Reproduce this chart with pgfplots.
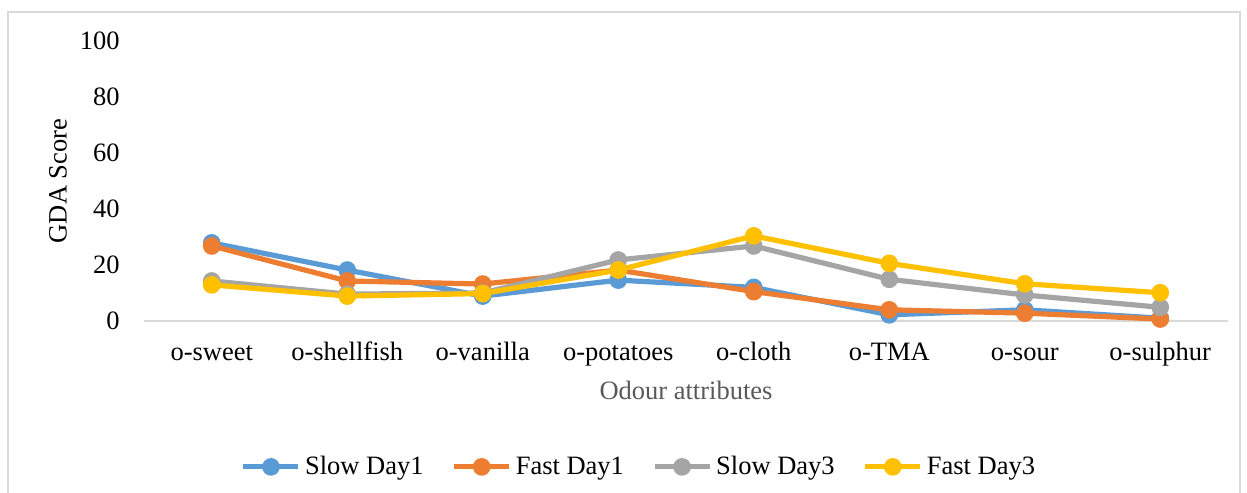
\documentclass[border=0pt]{standalone}
\usepackage{fontspec}
\setmainfont{Liberation Serif}
\usepackage{pgfplots}
\pgfplotsset{compat=1.18}
\definecolor{cBlue}{HTML}{5B9BD5}
\definecolor{cOrange}{HTML}{ED7D31}
\definecolor{cGray}{HTML}{A5A5A5}
\definecolor{cYellow}{HTML}{FFC000}
\definecolor{cGrid}{HTML}{D9D9D9}
\definecolor{cTitle}{HTML}{595959}
\begin{document}
\begin{tikzpicture}
\useasboundingbox (-72bp,-86bp) rectangle (551.5bp,160.5bp);
\draw[cGrid, line width=1bp] (-68bp,-87bp) -- (-68bp,154.5bp) -- (548bp,154.5bp) -- (548bp,-87bp);
\begin{axis}[
  at={(0,0)}, anchor=south west,
  scale only axis,
  width=542bp, height=140bp,
  xmin=-0.5, xmax=7.5, ymin=0, ymax=100,
  clip=false,
  axis x line*=bottom, axis y line*=left,
  x axis line style={cGrid, line width=0.75bp},
  y axis line style={draw=none},
  major tick length=0pt,
  xtick={0,...,7},
  xticklabels={o-sweet,o-shellfish,o-vanilla,o-potatoes,o-cloth,o-TMA,o-sour,o-sulphur},
  ytick={0,20,...,100},
  /pgf/number format/assume math mode=true,
  tick label style={font=\fontsize{13.25bp}{16bp}\selectfont, black},
  xticklabel style={anchor=base, inner sep=0pt, yshift=-19.5bp},
  yticklabel style={anchor=east, inner sep=0pt, xshift=-12bp},
  ylabel={GDA Score},
  ylabel style={at={(axis description cs:-0.0793,0.5)}, anchor=center, font=\fontsize{13.25bp}{16bp}\selectfont, inner sep=0pt},
  xlabel={Odour attributes},
  xlabel style={at={(axis description cs:0.5,-0.2786)}, anchor=base, font=\fontsize{13.25bp}{16bp}\selectfont, text=cTitle, inner sep=0pt},
  every axis plot/.append style={line width=2.6bp, mark=*, mark size=3.1bp},
  legend columns=4,
  legend style={at={(axis description cs:0.4557,-0.521)}, anchor=center, draw=none, fill=none,
    font=\fontsize{13.25bp}{16bp}\selectfont, inner sep=0pt, nodes={inner sep=0pt},
    /tikz/every odd column/.append style={column sep=2bp},
    /tikz/every even column/.append style={column sep=14bp}},
  legend cell align=left,
  legend image code/.code={\draw[#1, mark repeat=2, mark phase=2] plot coordinates {(0bp,0bp) (13.75bp,0bp) (27.5bp,0bp)};},
]
\addplot[cBlue, mark options={fill=cBlue, draw=cBlue}] coordinates {(0,27.9) (1,18.2) (2,8.9) (3,14.6) (4,12.0) (5,2.2) (6,4.0) (7,1.0)};
\addlegendentry{Slow Day1}
\addplot[cOrange, mark options={fill=cOrange, draw=cOrange}] coordinates {(0,26.8) (1,14.3) (2,13.2) (3,18.2) (4,10.5) (5,4.0) (6,2.8) (7,0.7)};
\addlegendentry{Fast Day1}
\addplot[cGray, mark options={fill=cGray, draw=cGray}] coordinates {(0,14.3) (1,9.6) (2,10.0) (3,21.8) (4,26.8) (5,14.9) (6,9.3) (7,4.9)};
\addlegendentry{Slow Day3}
\addplot[cYellow, mark options={fill=cYellow, draw=cYellow}] coordinates {(0,12.9) (1,8.9) (2,9.8) (3,18.2) (4,30.4) (5,20.6) (6,13.3) (7,10.1)};
\addlegendentry{Fast Day3}
\end{axis}
\end{tikzpicture}
\end{document}
